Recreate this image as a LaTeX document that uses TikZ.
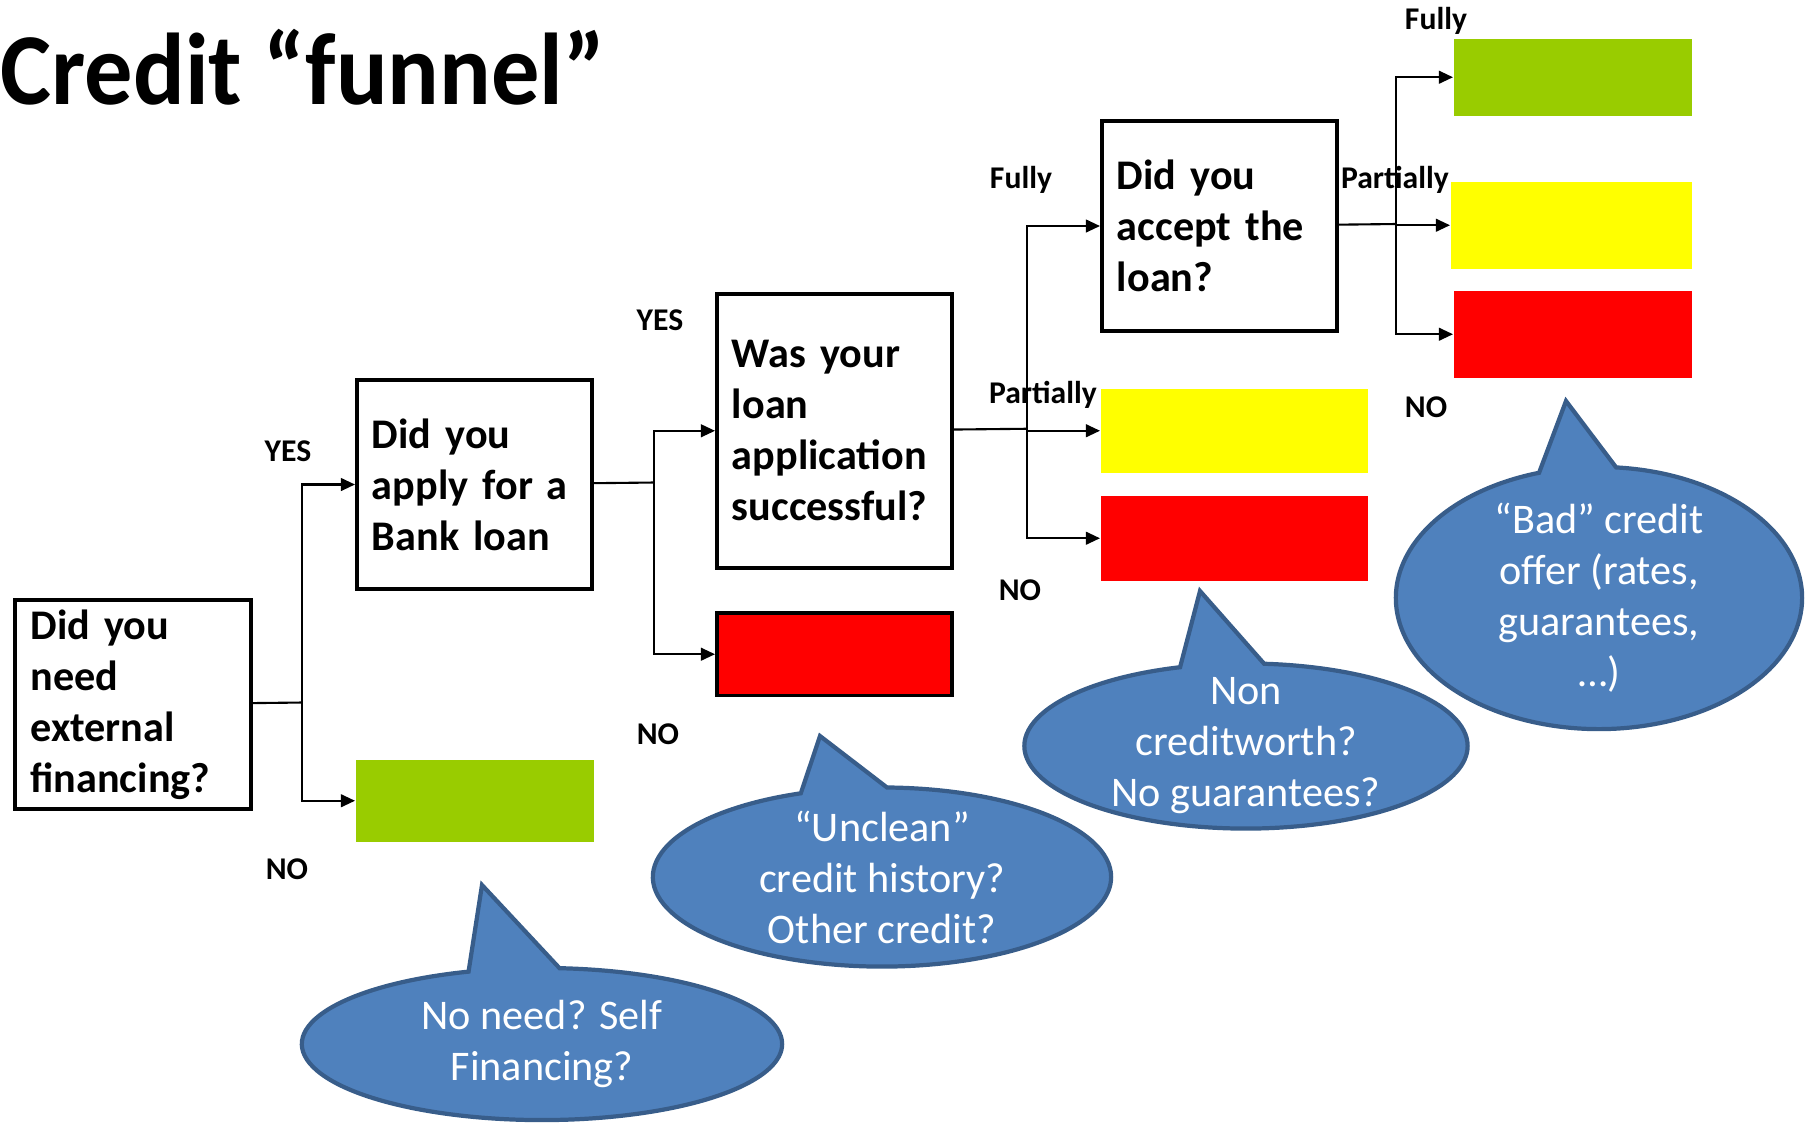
\documentclass[tikz,border=0pt]{standalone}
\usepackage{fontspec}
\setmainfont{Carlito}
\usepackage{tikz}
\usetikzlibrary{arrows.meta,positioning,shapes,shapes.callouts,calc}

\definecolor{okgreen}{HTML}{99CC00}
\definecolor{partyellow}{HTML}{FFFF00}
\definecolor{badred}{HTML}{FF0000}
\definecolor{bubblefill}{HTML}{4F81BD}
\definecolor{bubbleline}{HTML}{385D8A}

\begin{document}
\begin{tikzpicture}[x=0.01cm, y=-0.01cm,
  question/.style={draw, line width=1.1pt, anchor=north west, align=left, text width=2.05cm, inner xsep=0.15cm, inner ysep=0pt, font=\fontsize{12}{14.5}\selectfont\bfseries},
  outcome/.style={anchor=north west, inner sep=0pt},
  branch/.style={line width=0.6pt},
  flow/.style={branch, -{Triangle[length=4pt,width=3.6pt]}},
  answer/.style={font=\fontsize{9}{11}\selectfont\bfseries, inner sep=0pt},
  bubble/.style={ellipse callout, fill=bubblefill, draw=bubbleline, line width=1.2pt, text=white, align=center, inner xsep=0pt, inner ysep=-6pt, callout pointer arc=22, font=\fontsize{12}{14.5}\selectfont}]
\useasboundingbox (0,0) rectangle (1809,1123);

\node[anchor=base west, inner sep=0pt, transform shape, xscale=0.945, font=\fontsize{29}{34}\selectfont\bfseries] (title) at (0,104) {Credit “funnel”};

%Questions
\node[question, minimum width=2.36cm, minimum height=2.09cm] (need) at (13,598) {Did you\\ need\\ external\\ financing?};
\node[question, minimum width=2.35cm, minimum height=2.09cm] (apply) at (355,378) {Did you\\ apply for a\\ Bank loan};
\node[question, minimum width=2.35cm, minimum height=2.735cm] (success) at (715,292) {Was your\\ loan\\ application\\ successful?};
\node[question, minimum width=2.34cm, minimum height=2.10cm] (accept) at (1100,119) {Did you\\ accept the\\ loan?};

%Outcomes
\node[outcome, fill=okgreen, minimum width=2.38cm, minimum height=0.82cm] (selffin) at (355,759) {};
\node[outcome, fill=badred, draw, line width=1.1pt, minimum width=2.35cm, minimum height=0.825cm] (refused) at (715,611) {};
\node[outcome, fill=partyellow, minimum width=2.67cm, minimum height=0.84cm] (partgot) at (1100,388) {};
\node[outcome, fill=badred, minimum width=2.67cm, minimum height=0.85cm] (nogot) at (1100,495) {};
\node[outcome, fill=okgreen, minimum width=2.38cm, minimum height=0.77cm] (fullacc) at (1453,38) {};
\node[outcome, fill=partyellow, minimum width=2.41cm, minimum height=0.87cm] (partacc) at (1450,181) {};
\node[outcome, fill=badred, minimum width=2.38cm, minimum height=0.87cm] (noacc) at (1453,290) {};

%Branches
\coordinate (j1) at (302,702.5);
\coordinate (j2) at (654,482.5);
\coordinate (j3) at (1027,428.75);
\coordinate (j4) at (1396,224);

\draw[branch] (need) -- (j1);
\draw[flow] (j1) |- (apply);
\draw[flow] (j1) |- (selffin);

\draw[branch] (apply) -- (j2);
\draw[flow] (j2) |- (success);
\draw[flow] (j2) |- (refused);

\draw[branch] (success) -- (j3);
\draw[flow] (j3) |- (accept);
\draw[flow] (j3) |- (partgot);
\draw[flow] (j3) |- (nogot);

\draw[branch] (accept) -- (j4);
\draw[flow] (j4) |- (fullacc);
\draw[flow] (j4) |- (partacc);
\draw[flow] (j4) |- (noacc);

%Answers
\node[answer] (yes1) at (288,451) {YES};
\node[answer] (no1) at (287,869) {NO};
\node[answer] (yes2) at (660,320) {YES};
\node[answer] (no2) at (658,734) {NO};
\node[answer] (fully1) at (1021,180) {Fully};
\node[answer] (part1) at (1043,395) {Partially};
\node[answer] (no3) at (1020,590) {NO};
\node[answer] (fully2) at (1436,21) {Fully};
\node[answer] (part2) at (1395,180) {Partially};
\node[answer] (no4) at (1426,407) {NO};

%Reasons
\coordinate (t1) at (482,885);
\coordinate (t2) at (820,736);
\coordinate (t3) at (1200,591);
\coordinate (t4) at (1566,401);
\node[bubble, minimum width=4.8cm, minimum height=1.52cm, callout absolute pointer={(t1)}] (why1) at (542,1044) {No need? Self\\ Financing?};
\node[bubble, minimum width=4.58cm, minimum height=1.79cm, callout absolute pointer={(t2)}] (why2) at (882,877) {“Unclean”\\ credit history?\\ Other credit?};
\node[bubble, minimum width=4.43cm, minimum height=1.65cm, callout absolute pointer={(t3)}] (why3) at (1246,746) {Non\\ creditworth?\\ No guarantees?};
\node[bubble, minimum width=4.06cm, minimum height=2.62cm, callout absolute pointer={(t4)}] (why4) at (1599,598) {“Bad” credit\\ offer (rates,\\ guarantees,\\ …)};

\end{tikzpicture}
\end{document}
